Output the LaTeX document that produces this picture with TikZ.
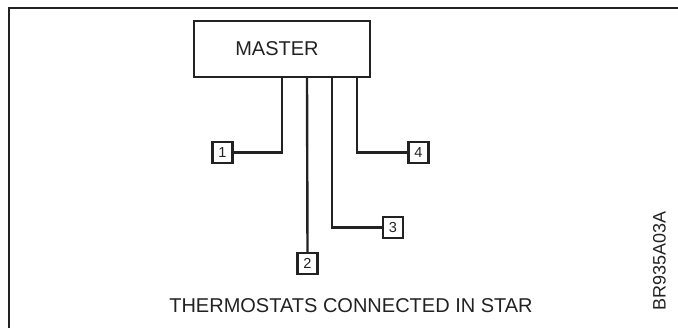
\documentclass[tikz,border=0pt]{standalone}
\usepackage{fontspec}
\setmainfont{Liberation Sans}
\definecolor{ink}{HTML}{222222}
\begin{document}
\begin{tikzpicture}[x=1pt,y=-1pt,
  wire/.style={draw=ink,line width=2.4pt},
  masterbox/.style={draw=ink,line width=2.4pt,minimum width=176pt,minimum height=56pt,inner sep=0pt},
  tbox/.style={draw=ink,line width=2.4pt,minimum width=20pt,minimum height=21pt,inner sep=0pt,font=\fontsize{14.5}{14.5}\selectfont,text=ink},
  lbl/.style={text=ink,inner sep=0pt}]
\useasboundingbox (0,0) rectangle (678,327);
\draw[wire] (9,330) -- (9,8) -- (680,8);
\node[masterbox] (master) at (282,49) {};
\node[lbl,font=\fontsize{20}{20}\selectfont] (mtxt) at (277,49) {MASTER};
\node[tbox] (t1) at (222.5,152.5) {1};
\node[tbox] (t2) at (307.5,263.5) {2};
\node[tbox] (t3) at (393,227.5) {3};
\node[tbox] (t4) at (418.5,152.5) {4};
\draw[wire] (master.south) |- (t1.east);
\draw[wire] ([xshift=25pt]master.south) -- (t2.north);
\draw[wire] ([xshift=50pt]master.south) |- (t3.west);
\draw[wire] ([xshift=75pt]master.south) |- (t4.west);
\node[lbl,font=\fontsize{20}{20}\selectfont] (cap) at (351,305.5) {THERMOSTATS CONNECTED IN STAR};
\node[lbl,font=\fontsize{18}{18}\selectfont,rotate=90] (code) at (659.5,261) {BR935A03A};
\end{tikzpicture}
\end{document}
